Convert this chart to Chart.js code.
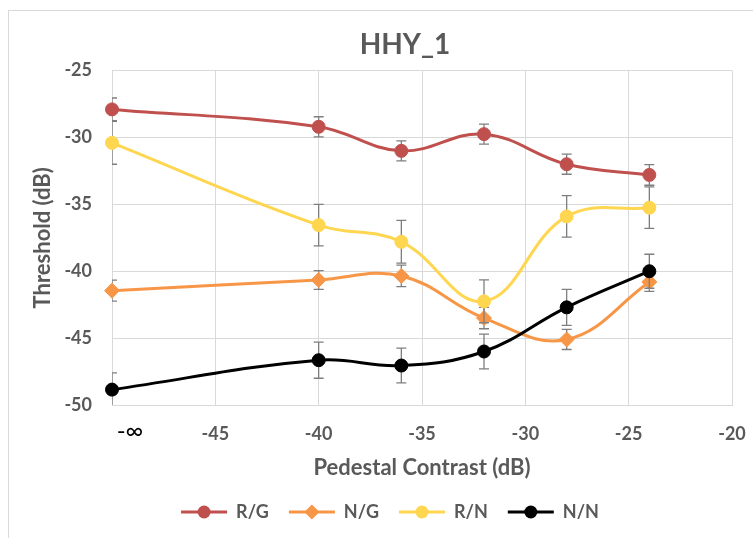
<!DOCTYPE html>
<html>
<head>
<meta charset="utf-8">
<script src="https://cdn.jsdelivr.net/npm/chart.js@4/dist/chart.umd.min.js"></script>
<style>
  html, body { margin: 0; padding: 0; background: #fff; }
  #wrap { position: relative; width: 753px; height: 538px; overflow: hidden; }
  #frame { position: absolute; left: 8px; top: 10px; width: 800px; height: 600px; border: 1.5px solid #d9d9d9; }
  #c { position: absolute; left: 0; top: 0; }
</style>
</head>
<body>
<div id="wrap">
  <div id="frame"></div>
  <canvas id="c" width="753" height="538"></canvas>
</div>
<script>
// ---- data ----
const chartTitle = 'HHY_1';
const xTitle = 'Pedestal Contrast (dB)';
const yTitle = 'Threshold (dB)';
const xValues = [-50, -40, -36, -32, -28, -24];   // -50 stands for -∞
const infValue = -50;
const infLabel = '-∞';
const seriesNames = ['R/G', 'N/G', 'R/N', 'N/N'];
const rgValues = [-27.9, -29.2, -31.0, -29.75, -32.0, -32.8];
const rgErr    = [0.85, 0.75, 0.75, 0.75, 0.75, 0.77];
const ngValues = [-41.45, -40.65, -40.35, -43.5, -45.1, -40.8];
const ngErr    = [0.78, 0.7, 0.8, 0.8, 0.75, 0.7];
const rnValues = [-30.4, -36.55, -37.8, -42.25, -35.9, -35.25];
const rnErr    = [1.6, 1.55, 1.6, 1.6, 1.55, 1.55];
const nnValues = [-48.85, -46.65, -47.05, -46.0, -42.7, -40.0];
const nnErr    = [1.25, 1.35, 1.3, 1.3, 1.35, 1.27];
const yTicks = { min: -50, max: -25, step: 5 };
const xTicks = { min: -50, max: -20, step: 5 };

const colors = ['#C0504D', '#F79646', '#FFD64F', '#000000'];
const markers = ['circle', 'rectRot', 'circle', 'circle'];
const allValues = [rgValues, ngValues, rnValues, nnValues];
const allErr = [rgErr, ngErr, rnErr, nnErr];

const gray = '#595959';
const gridColor = '#d9d9d9';

const datasets = seriesNames.map((name, i) => ({
  label: name,
  data: xValues.map((x, k) => ({ x: x, y: allValues[i][k] })),
  borderColor: colors[i],
  backgroundColor: colors[i],
  pointBackgroundColor: colors[i],
  pointBorderColor: colors[i],
  pointStyle: markers[i],
  pointRadius: markers[i] === 'rectRot' ? 7.5 : 6.5,
  pointBorderWidth: 1,
  borderWidth: 3,
  tension: 0.4,
  clip: false,
  order: seriesNames.length - i,
  errors: allErr[i]
}));

const errorBarPlugin = {
  id: 'errorBars',
  beforeDatasetDraw(chart, args) {
    const ds = chart.data.datasets[args.index];
    const xs = chart.scales.x, ys = chart.scales.y;
    const a = chart.chartArea;
    const ctx = chart.ctx;
    ctx.save();
    ctx.beginPath();
    ctx.rect(a.left, a.top, a.right - a.left, a.bottom - a.top);
    ctx.clip();
    ctx.strokeStyle = '#7f7f7f';
    ctx.lineWidth = 1.3;
    ds.data.forEach((p, k) => {
      const e = ds.errors[k];
      const px = xs.getPixelForValue(p.x);
      const top = ys.getPixelForValue(p.y + e);
      const bot = ys.getPixelForValue(p.y - e);
      ctx.beginPath();
      ctx.moveTo(px, top); ctx.lineTo(px, bot);
      ctx.moveTo(px - 5, top); ctx.lineTo(px + 5, top);
      ctx.moveTo(px - 5, bot); ctx.lineTo(px + 5, bot);
      ctx.stroke();
    });
    ctx.restore();
  }
};

const layoutPlugin = {
  id: 'layoutTweaks',
  afterLayout(chart) {
    const t = chart.titleBlock;
    if (t) { t.left = 78; t.right = 732; }
    const lg = chart.legend;
    if (lg) {
      const h = lg.bottom - lg.top;
      lg.left = 48; lg.right = 732;
      lg.top = 512 - lg.options.labels.padding - 9;
      lg.bottom = lg.top + h;
    }
  },
  afterDraw(chart) {
    const ctx = chart.ctx;
    const lg = chart.legend;
    if (lg && lg.legendHitBoxes) {
      lg.legendHitBoxes.forEach((hb, i) => {
        const ds = chart.data.datasets[i];
        const cx = hb.left + lg.options.labels.boxWidth / 2;
        const cy = hb.top + hb.height / 2;
        ctx.save();
        ctx.fillStyle = ds.backgroundColor;
        ctx.beginPath();
        if (ds.pointStyle === 'rectRot') {
          const r = ds.pointRadius;
          ctx.moveTo(cx, cy - r); ctx.lineTo(cx + r, cy); ctx.lineTo(cx, cy + r); ctx.lineTo(cx - r, cy);
          ctx.closePath();
        } else {
          ctx.arc(cx, cy, ds.pointRadius, 0, Math.PI * 2);
        }
        ctx.fill();
        ctx.restore();
      });
    }
    const xs = chart.scales.x;
    ctx.save();
    ctx.fillStyle = '#000';
    ctx.font = '24px Lato, "DejaVu Sans", sans-serif';
    ctx.textAlign = 'center';
    ctx.textBaseline = 'middle';
    ctx.fillText(infLabel, xs.getPixelForValue(infValue) + 18, 431);
    ctx.restore();
  }
};

const tickFont = { family: 'Lato', weight: 'bold', size: 18 };
const axisTitleFont = { family: 'Lato', weight: 'bold', size: 22 };

new Chart(document.getElementById('c'), {
  type: 'line',
  data: { datasets: datasets },
  options: {
    responsive: false,
    animation: false,
    events: [],
    layout: { padding: { left: 0, right: 21, top: 0, bottom: 0 } },
    plugins: {
      title: {
        display: true,
        text: chartTitle,
        color: gray,
        font: { family: 'Lato', weight: 'bold', size: 28 },
        padding: { top: 28, bottom: 9 }
      },
      legend: {
        display: true,
        position: 'bottom',
        labels: {
          color: gray,
          font: { family: 'Lato', weight: 'bold', size: 18 },
          boxWidth: 46,
          boxHeight: 3,
          padding: 20,
          generateLabels(chart) {
            return chart.data.datasets.map((ds, i) => ({
              text: ds.label,
              fillStyle: ds.borderColor,
              strokeStyle: ds.borderColor,
              lineWidth: 0,
              hidden: false,
              datasetIndex: i,
              fontColor: gray
            }));
          }
        }
      },
      tooltip: { enabled: false }
    },
    scales: {
      x: {
        type: 'linear',
        min: xTicks.min,
        max: xTicks.max,
        afterFit(scale) {
          scale.height = 85;
          scale.paddingLeft = 0;
          scale.paddingRight = 0;
        },
        ticks: {
          stepSize: xTicks.step,
          color: gray,
          font: tickFont,
          padding: 18,
          maxRotation: 0,
          callback: (v) => (v === infValue ? '' : String(v))
        },
        grid: { color: gridColor, lineWidth: 1, drawTicks: false },
        border: { color: gridColor, width: 1 },
        title: {
          display: true,
          text: xTitle,
          color: gray,
          font: axisTitleFont,
          padding: { top: 0, bottom: 9 }
        }
      },
      y: {
        type: 'linear',
        min: yTicks.min,
        max: yTicks.max,
        afterFit(scale) {
          scale.width = 112;
        },
        ticks: {
          stepSize: yTicks.step,
          color: gray,
          font: tickFont,
          padding: 20
        },
        grid: { color: gridColor, lineWidth: 1, drawTicks: false },
        border: { color: gridColor, width: 1 },
        title: {
          display: true,
          text: yTitle,
          color: gray,
          font: axisTitleFont,
          padding: { top: 30, bottom: 0 }
        }
      }
    }
  },
  plugins: [errorBarPlugin, layoutPlugin]
});
</script>
</body>
</html>
